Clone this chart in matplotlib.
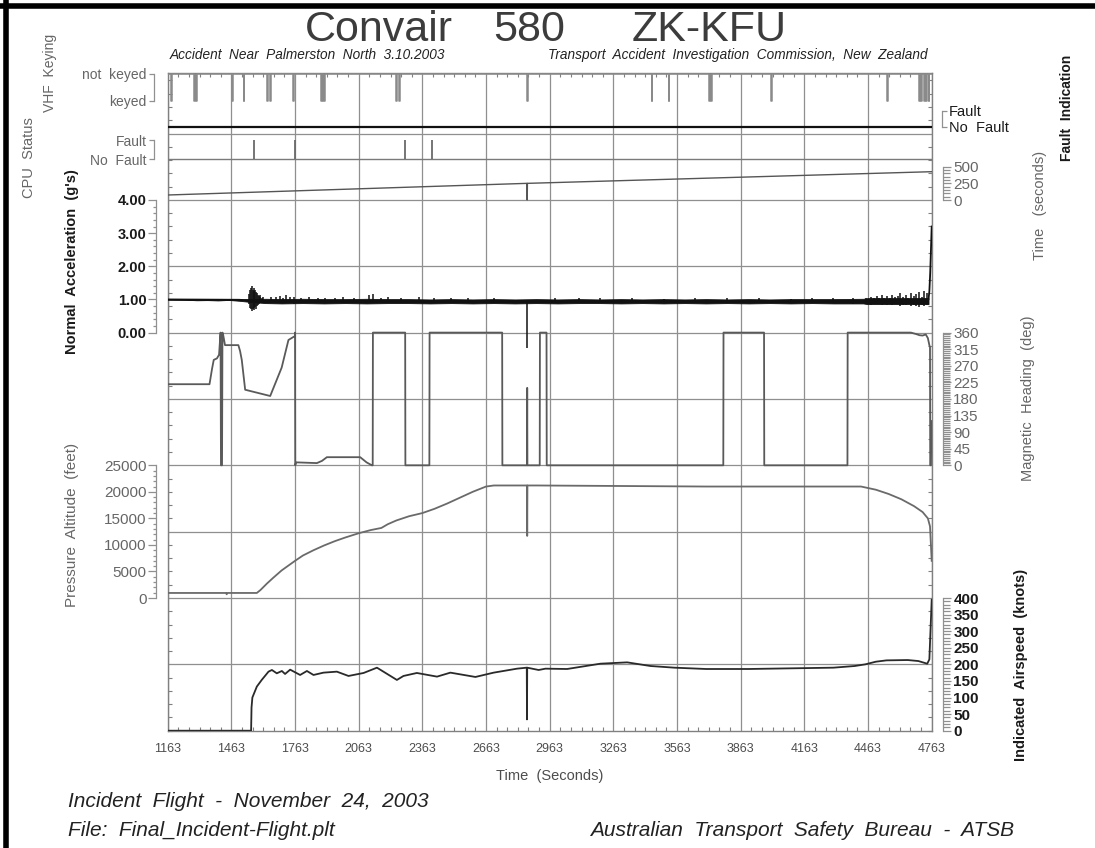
import matplotlib
matplotlib.use("Agg")
import matplotlib.pyplot as plt
from matplotlib.ticker import FixedLocator
from matplotlib.lines import Line2D
import numpy as np

# ---------------- data ----------------
time_ticks = [1163, 1463, 1763, 2063, 2363, 2663, 2963, 3263, 3563, 3863, 4163, 4463, 4763]

# VHF keying: intervals where the transmitter was keyed
vhf_key_start = [1178, 1285, 1465, 1522, 1630, 1643, 1755, 1886, 1897, 2240, 2252, 2857,
                 3445, 3523, 3713, 4008, 4553, 4704, 4714, 4726, 4738, 4748]
vhf_key_end = [1181, 1303, 1471, 1524, 1634, 1648, 1757, 1890, 1903, 2244, 2258, 2859,
               3447, 3525, 3726, 4010, 4555, 4706, 4718, 4730, 4741, 4752]

# CPU status: moments flagged as Fault
cpu_fault_t = [1572, 1763, 2282, 2408]

# Fault indication (constant No Fault)
fault_ind_t = [1163, 4763]
fault_ind_v = [0, 0]

# Time (seconds) counter
clock_t = [1163, 2856, 2857, 2858, 4763]
clock_s = [75, 250, 0, 250, 425]

# Normal acceleration (g): mean trace, noise band, individual spikes
acc_t = [1163, 1500, 1545, 1625, 4440, 4748, 4752, 4756, 4760, 4763]
acc_g = [1.00, 0.99, 0.97, 0.95, 0.95, 1.00, 1.25, 1.8, 2.6, 3.2]
acc_env_t = [1163, 1250, 1300, 1350, 1400, 1450, 1500, 1545, 1625, 1700, 1800, 1900, 2000,
             2100, 2200, 2300, 2400, 2500, 2600, 2700, 2800, 2900, 3000, 3100, 3200, 3300,
             3400, 3500, 3600, 3700, 3800, 3900, 4000, 4100, 4200, 4300, 4440, 4460, 4748]
acc_env_lo = [0.995, 0.99, 0.975, 0.98, 0.97, 0.985, 0.96, 0.93, 0.89, 0.88, 0.89, 0.88, 0.89,
              0.88, 0.89, 0.89, 0.88, 0.89, 0.88, 0.89, 0.88, 0.89, 0.88, 0.89, 0.89, 0.88,
              0.89, 0.88, 0.89, 0.88, 0.89, 0.88, 0.89, 0.88, 0.89, 0.88, 0.88, 0.86, 0.86]
acc_env_hi = [1.005, 1.005, 1.005, 1.005, 1.005, 1.005, 1.005, 1.01, 1.02, 1.01, 1.02, 1.01, 1.01,
              1.02, 1.01, 1.01, 1.00, 1.01, 1.00, 1.01, 1.00, 1.01, 1.00, 1.01, 1.00, 1.01,
              1.00, 1.01, 1.00, 1.01, 1.00, 1.01, 1.00, 1.01, 1.01, 1.01, 1.02, 1.04, 1.04]
acc_spk_t = [1548, 1552, 1556, 1560, 1564, 1568, 1572, 1576, 1580, 1584, 1588, 1592, 1596, 1600,
             1606, 1612, 1650, 1672, 1690, 1705, 1722, 1740, 1760, 1790, 1830, 1870, 1905, 1950,
             1990, 2040, 2110, 2130, 2170, 2200, 2260, 2345, 2420, 2500, 2580, 2700, 2857, 2990,
             3100, 3200, 3350, 3500, 3650, 3800, 3950, 4100, 4200, 4300, 4390,
             4452, 4465, 4478, 4490, 4503, 4515, 4528, 4540, 4553, 4565, 4578, 4590, 4603, 4615,
             4628, 4640, 4653, 4665, 4678, 4690, 4703, 4715, 4728, 4740]
acc_spk_lo = [0.85, 0.75, 0.70, 0.66, 0.72, 0.68, 0.74, 0.78, 0.72, 0.80, 0.84, 0.86, 0.88, 0.88,
              0.90, 0.90, 0.90, 0.89, 0.88, 0.89, 0.88, 0.90, 0.87, 0.89, 0.88, 0.89, 0.88, 0.89,
              0.88, 0.89, 0.88, 0.88, 0.89, 0.88, 0.89, 0.88, 0.89, 0.88, 0.89, 0.88, -0.45, 0.89,
              0.88, 0.89, 0.88, 0.89, 0.88, 0.89, 0.88, 0.89, 0.88, 0.88, 0.87,
              0.86, 0.88, 0.84, 0.87, 0.85, 0.88, 0.83, 0.86, 0.84, 0.87, 0.82, 0.85, 0.86, 0.80,
              0.84, 0.82, 0.86, 0.79, 0.83, 0.81, 0.78, 0.84, 0.80, 0.82]
acc_spk_hi = [1.15, 1.28, 1.35, 1.40, 1.30, 1.36, 1.25, 1.30, 1.22, 1.18, 1.12, 1.10, 1.08, 1.12,
              1.05, 1.06, 1.06, 1.08, 1.10, 1.05, 1.12, 1.06, 1.08, 1.04, 1.06, 1.04, 1.05, 1.04,
              1.06, 1.04, 1.12, 1.16, 1.05, 1.06, 1.04, 1.08, 1.04, 1.03, 1.04, 1.03, 0.95, 1.03,
              1.04, 1.03, 1.04, 1.02, 1.03, 1.03, 1.04, 1.02, 1.03, 1.04, 1.05,
              1.05, 1.02, 1.08, 1.04, 1.10, 1.03, 1.12, 1.05, 1.09, 1.04, 1.14, 1.06, 1.10, 1.18,
              1.07, 1.12, 1.05, 1.20, 1.10, 1.15, 1.22, 1.08, 1.25, 1.18]

# Magnetic heading (deg)
hdg_t = [1163, 1360, 1372, 1380, 1395, 1405, 1412, 1414, 1419, 1421, 1425, 1433, 1496, 1504,
         1512, 1528, 1646, 1700, 1732, 1755, 1762, 1763, 1764, 1768, 1866, 1890, 1913, 2070,
         2100, 2125, 2129, 2130, 2282, 2283, 2396, 2397, 2739, 2740, 2856, 2857, 2858, 2916,
         2917, 2948, 2949, 3781, 3782, 3973, 3974, 4366, 4367, 4665, 4690, 4705, 4720, 4735,
         4745, 4752, 4755, 4756, 4759, 4761, 4763]
hdg_d = [220, 220, 262, 286, 290, 300, 360, 0, 0, 360, 352, 326, 326, 310,
         286, 205, 188, 265, 340, 348, 350, 360, 0, 8, 6, 12, 22, 22,
         8, 0, 0, 360, 360, 0, 0, 360, 360, 0, 0, 210, 0, 0,
         360, 360, 0, 0, 360, 360, 0, 0, 360, 360, 356, 353, 352, 355,
         345, 326, 320, 0, 0, 110, 120]

# Pressure altitude (feet)
alt_t = [1163, 1438, 1441, 1444, 1583, 1600, 1630, 1660, 1700, 1763, 1800, 1850, 1900, 1950,
         2000, 2063, 2120, 2170, 2200, 2240, 2300, 2363, 2420, 2480, 2540, 2600, 2663, 2700,
         2856, 2857, 2858, 2900, 3300, 3700, 4100, 4430, 4500, 4560, 4620, 4680, 4720, 4745,
         4755, 4763]
alt_f = [950, 950, 700, 950, 950, 1500, 2700, 3800, 5200, 7000, 8000, 9000, 9900, 10700,
         11400, 12200, 12800, 13200, 13900, 14600, 15400, 16000, 16800, 17800, 18900, 20000, 21000, 21200,
         21200, 11700, 21200, 21200, 21100, 21000, 21000, 21000, 20400, 19600, 18600, 17300, 16200, 15000,
         13500, 7000]

# Indicated airspeed (knots)
ias_t = [1163, 1556, 1558, 1562, 1583, 1606, 1638, 1654, 1677, 1701, 1716, 1740, 1787, 1819,
         1850, 1897, 1960, 2015, 2086, 2149, 2243, 2274, 2337, 2432, 2495, 2613, 2699, 2809,
         2855, 2856, 2857, 2911, 2943, 3045, 3202, 3328, 3438, 3550, 3700, 3900, 4100, 4300,
         4400, 4450, 4500, 4550, 4650, 4700, 4742, 4752, 4763]
ias_k = [0, 0, 70, 100, 133, 153, 178, 183, 173, 180, 171, 184, 168, 180,
         168, 175, 178, 165, 174, 190, 153, 165, 174, 163, 175, 162, 175, 187,
         190, 34, 190, 183, 187, 186, 202, 206, 195, 190, 186, 186, 188, 190,
         195, 200, 208, 212, 213, 210, 202, 215, 395]

# ---------------- layout ----------------
plt.rcParams['font.family'] = ['Liberation Sans', 'DejaVu Sans']
W, H = 1095, 848
fig = plt.figure(figsize=(W / 100, H / 100), dpi=100)
fig.patch.set_facecolor('white')

L, R, T, B = 167.7, 931.7, 73.0, 730.7   # plot frame in pixels
GRID = 66.35                              # horizontal grid spacing in pixels
rect = [L / W, 1 - B / H, (R - L) / W, (B - T) / H]
XMIN, XMAX = 1163, 4763
PT = 0.72  # points per pixel at 100 dpi

GRAY_TXT = '#666666'
DARK_TXT = '#1a1a1a'

base = fig.add_axes(rect)
base.set_xlim(XMIN, XMAX)
base.set_ylim(0, (B - T) / GRID)
base.set_xticks(time_ticks)
base.set_xticklabels([str(t) for t in time_ticks])
base.xaxis.set_minor_locator(FixedLocator(np.arange(XMIN, XMAX + 1, 50)))
base.set_yticks(range(1, 10))
base.yaxis.set_minor_locator(FixedLocator(np.arange(0, (B - T) / GRID, 0.2)))
base.tick_params(axis='both', which='both', direction='in', colors='#808080',
                 top=True, right=True, bottom=True, left=True)
base.tick_params(axis='both', which='major', length=0)
base.tick_params(axis='both', which='minor', length=4 * PT, width=0.8)
base.tick_params(axis='y', which='both', labelleft=False)
base.tick_params(axis='x', which='major', labelsize=9, labelcolor='#4d4d4d', pad=12 * PT)
base.grid(True, which='major', color='#8f8f8f', lw=0.9)
for sp in base.spines.values():
    sp.set_color('#808080')
    sp.set_linewidth(1.0)
base.set_xlabel('Time  (Seconds)', fontsize=10.5, color='#4d4d4d', labelpad=10)


def layer(v_hi, py_hi, v_lo, py_lo):
    ax = fig.add_axes(rect)
    ax.set_xlim(XMIN, XMAX)
    s = (py_lo - py_hi) / (v_hi - v_lo)
    ax.set_ylim(v_lo - (B - py_lo) / s, v_hi + (py_hi - T) / s)
    ax.patch.set_alpha(0)
    for sp in ax.spines.values():
        sp.set_visible(False)
    ax.tick_params(which='both', bottom=False, top=False, left=False, right=False,
                   labelbottom=False, labelleft=False, labelright=False)
    return ax


def scale(ax, side, lo, hi, major, labels, minor=None, color=GRAY_TXT, weight='normal',
          offset_px=11.7, majlen_px=7.7, minlen_px=3.3, size=10.5, pad_px=1.6):
    sp = ax.spines[side]
    sp.set_visible(True)
    sp.set_position(('outward', offset_px * PT))
    sp.set_bounds(lo, hi)
    sp.set_color('#909090')
    sp.set_linewidth(0.9)
    ax.yaxis.set_ticks_position(side)
    ax.yaxis.set_major_locator(FixedLocator(major))
    ax.set_yticklabels(labels)
    if minor is not None:
        ax.yaxis.set_minor_locator(FixedLocator(np.arange(lo, hi + 1e-9, minor)))
    on = dict(left=(side == 'left'), right=(side == 'right'))
    ax.tick_params(axis='y', which='both', direction='out', colors='#909090', width=0.9, **on)
    ax.tick_params(axis='y', which='major', length=majlen_px * PT, labelcolor=color,
                   labelsize=size, pad=pad_px * PT,
                   labelleft=(side == 'left'), labelright=(side == 'right'))
    ax.tick_params(axis='y', which='minor', length=minlen_px * PT)
    for lab in ax.get_yticklabels():
        lab.set_fontweight(weight)


# VHF keying
ax_vhf = layer(1, 74.0, 0, 100.7)
vx, vy = [XMIN], [1]
for s0, s1 in zip(vhf_key_start, vhf_key_end):
    vx += [s0, s0, s1, s1]
    vy += [1, 0, 0, 1]
vx.append(XMAX); vy.append(1)
ax_vhf.fill_between(vx, vy, 1, color='#8a8a8a', lw=0)
ax_vhf.plot(vx, vy, color='#8a8a8a', lw=1.1)
scale(ax_vhf, 'left', 0, 1, [0, 1], ['keyed', 'not  keyed'], offset_px=13.7, majlen_px=5,
      size=10, pad_px=2.5)

# Fault indication
ax_fi = layer(1, 110.5, 0, 127.0)
ax_fi.plot(fault_ind_t, fault_ind_v, color='#111111', lw=1.6)
scale(ax_fi, 'right', 0, 1, [0, 1], ['No  Fault', 'Fault'], offset_px=10.5, majlen_px=5,
      color=DARK_TXT, size=10.5, pad_px=1.5)

# CPU status
ax_cpu = layer(1, 140.0, 0, 159.3)
ax_cpu.plot([XMIN, XMAX], [0, 0], color='#7a7a7a', lw=1.0)
ax_cpu.vlines(cpu_fault_t, 0, 1, color='#6a6a6a', lw=1.3)
scale(ax_cpu, 'left', 0, 1, [0, 1], ['No  Fault', 'Fault'], offset_px=13.7, majlen_px=5,
      size=10, pad_px=2.5)

# Time (seconds)
ax_clk = layer(500, 166.7, 0, 200.0)
ax_clk.plot(clock_t, clock_s, color='#555555', lw=1.0)
scale(ax_clk, 'right', 0, 500, [0, 250, 500], ['0', '250', '500'], minor=50, offset_px=11,
      majlen_px=8, minlen_px=6.5, size=11, pad_px=2.6)

# Normal acceleration
ax_acc = layer(4, 200.0, 0, 332.6)
ax_acc.fill_between(acc_env_t, acc_env_lo, acc_env_hi, color='#111111', lw=0.6)
ax_acc.vlines(acc_spk_t, acc_spk_lo, acc_spk_hi, color='#111111', lw=1.1)
ax_acc.plot(acc_t, acc_g, color='#111111', lw=1.3)
scale(ax_acc, 'left', 0, 4, [0, 1, 2, 3, 4], ['0.00', '1.00', '2.00', '3.00', '4.00'],
      minor=0.2, color=DARK_TXT, weight='bold', size=10.5)

# Magnetic heading
ax_hdg = layer(360, 332.6, 0, 465.3)
ax_hdg.plot(hdg_t, hdg_d, color='#5a5a5a', lw=1.3)
scale(ax_hdg, 'right', 0, 360, list(range(0, 361, 45)), [str(v) for v in range(0, 361, 45)],
      minor=5, offset_px=11, majlen_px=8, minlen_px=6.5, size=11, pad_px=2.6)

# Pressure altitude
ax_alt = layer(25000, 465.3, 0, 598.0)
ax_alt.plot(alt_t, alt_f, color='#6a6a6a', lw=1.3)
scale(ax_alt, 'left', 0, 25000, list(range(0, 25001, 5000)),
      [str(v) for v in range(0, 25001, 5000)], minor=1000, size=11)

# Indicated airspeed
ax_ias = layer(400, 598.0, 0, 730.7)
ax_ias.plot(ias_t, ias_k, color='#2a2a2a', lw=1.3)
scale(ax_ias, 'right', 0, 400, list(range(0, 401, 50)), [str(v) for v in range(0, 401, 50)],
      minor=10, color=DARK_TXT, weight='bold', offset_px=11, majlen_px=8, minlen_px=6.5,
      size=11, pad_px=2.6)

# ---------------- texts ----------------
def px(x, y):
    return x / W, 1 - y / H

TITLE_C = '#3c3c3c'
fig.text(*px(305, 41), 'Convair', fontsize=31, color=TITLE_C, ha='left', va='baseline')
fig.text(*px(493, 41), '580', fontsize=31, color=TITLE_C, ha='left', va='baseline')
fig.text(*px(632, 41), 'ZK-KFU', fontsize=31, color=TITLE_C, ha='left', va='baseline')

fig.text(*px(170, 59), 'Accident  Near  Palmerston  North  3.10.2003', fontsize=9.8,
         style='italic', color='#222222', ha='left', va='baseline')
fig.text(*px(928, 59), 'Transport  Accident  Investigation  Commission,  New  Zealand', fontsize=9.8,
         style='italic', color='#222222', ha='right', va='baseline')

rot = dict(rotation=90, ha='center', va='center')
fig.text(*px(50, 73), 'VHF  Keying', color=GRAY_TXT, fontsize=10, **rot)
fig.text(*px(29, 158), 'CPU  Status', color=GRAY_TXT, fontsize=10.5, **rot)
fig.text(*px(72, 262), "Normal  Acceleration  (g's)", color=DARK_TXT, fontweight='bold',
         fontsize=10.5, **rot)
fig.text(*px(72, 525), 'Pressure  Altitude  (feet)', color=GRAY_TXT, fontsize=11, **rot)
fig.text(*px(1067, 108), 'Fault  Indication', color=DARK_TXT, fontweight='bold', fontsize=10, **rot)
fig.text(*px(1040, 205), 'Time   (seconds)', color=GRAY_TXT, fontsize=10.5, **rot)
fig.text(*px(1028, 398), 'Magnetic  Heading  (deg)', color=GRAY_TXT, fontsize=10.5, **rot)
fig.text(*px(1021, 665), 'Indicated  Airspeed  (knots)', color=DARK_TXT, fontweight='bold',
         fontsize=10.5, **rot)

fig.text(*px(68, 807), 'Incident  Flight  -  November  24,  2003', fontsize=15, style='italic',
         color='#222222', ha='left', va='baseline')
fig.text(*px(68, 836), 'File:  Final_Incident-Flight.plt', fontsize=15, style='italic',
         color='#222222', ha='left', va='baseline')
fig.text(*px(1014, 836), 'Australian  Transport  Safety  Bureau  -  ATSB', fontsize=15, style='italic',
         color='#222222', ha='right', va='baseline')

# black frame on the left and top edges
fig.add_artist(Line2D([6 / W, 6 / W], [0, 1], transform=fig.transFigure, color='black', lw=4))
fig.add_artist(Line2D([0, 1], [1 - 6 / H, 1 - 6 / H], transform=fig.transFigure, color='black', lw=4))

fig.savefig('out.png', dpi=100, facecolor='white')
